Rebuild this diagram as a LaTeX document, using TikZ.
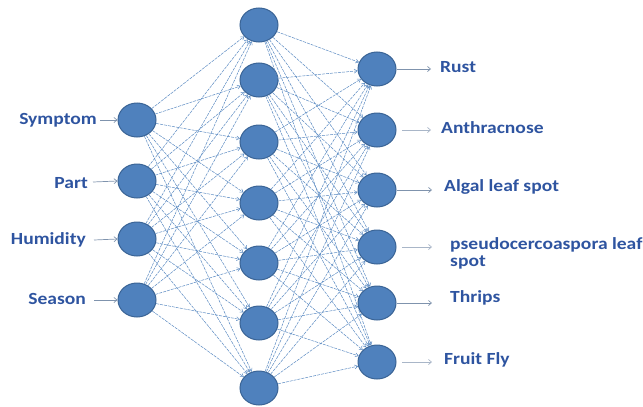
\documentclass[tikz,border=0pt]{standalone}
\usepackage{fontspec}
\setmainfont{Carlito}
\usetikzlibrary{arrows.meta,shapes.geometric}
\definecolor{nfill}{HTML}{4F81BD}
\definecolor{nedge}{HTML}{3A6496}
\definecolor{ltxt}{HTML}{2E54A0}
\definecolor{wire}{HTML}{5A8AC2}
\definecolor{oarr}{HTML}{7F93AD}
\definecolor{oarrl}{HTML}{A9B6C8}
\newcommand{\widetxt}[1]{\scalebox{1.15}[1]{#1}}
\tikzset{
  neuron/.style={ellipse, draw=nedge, line width=1pt, fill=nfill, minimum width=38pt, minimum height=34pt, inner sep=0pt},
  lbl/.style={font=\fontsize{17}{17}\selectfont\bfseries, text=ltxt, inner sep=0pt},
  wirestyle/.style={draw=wire, line width=0.5pt, dash pattern=on 3pt off 1pt, -{Straight Barb[length=3pt,width=4pt]}},
  inarr/.style={draw=oarr, line width=0.7pt, -{Straight Barb[length=3pt,width=5pt]}},
  outarr/.style={draw=oarr, line width=0.7pt, -{Straight Barb[length=3pt,width=5pt]}},
  outarrl/.style={draw=oarrl, line width=0.7pt, -{Straight Barb[length=3pt,width=5pt]}}
}
\begin{document}
\begin{tikzpicture}[x=1pt,y=-1pt]
\useasboundingbox (0,0) rectangle (643,407);
% input nodes
\foreach \n/\y in {1/120,2/181,3/239,4/300}{
  \node[neuron] (i\n) at (137,\y) {};
}
% hidden nodes
\foreach \n/\y in {1/25,2/80,3/142,4/203,5/263,6/323,7/388}{
  \node[neuron] (h\n) at (259,\y) {};
}
% output nodes
\foreach \n/\y in {1/69,2/130,3/190,4/247,5/303,6/362}{
  \node[neuron] (o\n) at (377,\y) {};
}
% connectors
\foreach \a in {1,...,4}{
  \foreach \b in {1,...,7}{
    \draw[wirestyle] (i\a) -- (h\b);
  }
}
\foreach \a in {1,...,7}{
  \foreach \b in {1,...,6}{
    \draw[wirestyle] (h\a) -- (o\b);
  }
}
% input labels
\node[lbl, anchor=east] (l1) at (97,120) {\widetxt{Symptom}};
\node[lbl, anchor=east] (l2) at (88,183) {\widetxt{Part}};
\node[lbl, anchor=east] (l3) at (86,240) {\widetxt{Humidity}};
\node[lbl, anchor=east] (l4) at (86,299) {\widetxt{Season}};
\coordinate (c1) at (100,120);
\coordinate (c2) at (93,182);
\coordinate (c3) at (94,240);
\coordinate (c4) at (94,300);
\draw[inarr] (c1) -- (i1.west);
\draw[inarr] (c2) -- (i2.west);
\draw[inarr] (c3) -- (i3.west);
\draw[inarr] (c4) -- (i4.west);
% output labels
\node[lbl, anchor=west] (r1) at (440,67) {\widetxt{Rust}};
\node[lbl, anchor=west] (r2) at (441,128) {\widetxt{Anthracnose}};
\node[lbl, anchor=west] (r3) at (444,187) {\widetxt{Algal leaf spot}};
\node[lbl, anchor=west] (r4a) at (450,245) {\widetxt{pseudocercoaspora leaf}};
\node[lbl, anchor=west] (r4b) at (450,262) {\widetxt{spot}};
\node[lbl, anchor=west] (r5) at (450,298) {\widetxt{Thrips}};
\node[lbl, anchor=west] (r6) at (444,360) {\widetxt{Fruit Fly}};
\coordinate (e1) at (431,69);
\coordinate (e2) at (431,130);
\coordinate (e3) at (432,190);
\coordinate (e4) at (432,247);
\coordinate (e5) at (432,303);
\coordinate (e6) at (432,362);
\coordinate (s2) at (402,130);
\coordinate (s4) at (402,247);
\coordinate (s6) at (402,362);
\draw[outarr] (o1.east) -- (e1);
\draw[outarrl] (s2) -- (e2);
\draw[outarr] (o3.east) -- (e3);
\draw[outarrl] (s4) -- (e4);
\draw[outarr] (o5.east) -- (e5);
\draw[outarrl] (s6) -- (e6);
\end{tikzpicture}
\end{document}
